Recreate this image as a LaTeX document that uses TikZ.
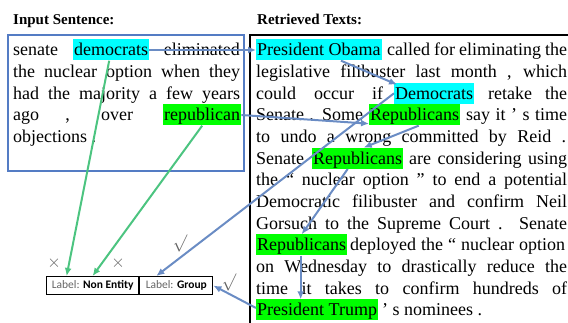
\documentclass[tikz,border=0pt]{standalone}
\usepackage{fontspec}
\setmainfont{Liberation Serif}
\newfontfamily\labelfont{Carlito}
\usetikzlibrary{arrows.meta}

\definecolor{boxblue}{RGB}{84,124,196}
\definecolor{linkblue}{RGB}{106,140,196}
\definecolor{matchgreen}{RGB}{76,196,128}
\definecolor{hlcyan}{RGB}{0,255,255}
\definecolor{hlgreen}{RGB}{0,255,0}
\definecolor{markgray}{RGB}{100,100,100}

% justified piece of a line
\newcommand{\jline}[2]{\makebox[#1pt][s]{#2}}

\tikzset{
  txt/.style={font=\fontsize{18}{21}\selectfont, inner sep=0pt, anchor=base west},
  hl/.style={txt, inner xsep=1pt, inner ysep=0.5pt, text height=16pt, text depth=4pt, fill=#1},
  title/.style={font=\fontsize{15}{18}\selectfont\bfseries, inner sep=0pt, anchor=base west},
  link/.style={draw=linkblue, line width=2pt, -{Latex[length=8pt,width=7pt]}},
  match/.style={draw=matchgreen, line width=2pt, -{Latex[length=8pt,width=7pt]}},
  labelbox/.style={draw=black, line width=1.2pt, font=\labelfont\fontsize{11.5}{13}\selectfont,
    minimum height=18pt, inner xsep=3pt, anchor=north west},
  verdict/.style={text=markgray, inner sep=0pt}
}

\begin{document}
\begin{tikzpicture}[x=1pt,y=-1pt]
                \useasboundingbox (0,0) rectangle (568,323);

                %% titles
                \node[title] (intitle) at (13,25) {Input Sentence:};
                \node[title] (rettitle) at (257,25) {Retrieved Texts:};

                %% input sentence
                \draw[boxblue, line width=1.2pt] (8,35) rectangle (244,171);

                \node[txt] (in1a) at (13,56) {senate};
                \node[hl=hlcyan] (dem) at (73,56) {democrats};
                \node[txt, anchor=base east] (in1b) at (240,56) {eliminated};
                \node[txt] (in2) at (13,77.7) {\jline{227}{the nuclear option when they}};
                \node[txt] (in3) at (13,99.3) {\jline{227}{had the majority a few years}};
                \node[txt] (in4) at (13,121) {\jline{120}{ago , over}};
                \node[hl=hlgreen] (rep) at (163,121) {republican};
                \node[txt] (in5) at (13,142.7) {objections .};

                %% retrieved texts
                \draw[black, line width=1.6pt] (250,400) -- (250,35) -- (700,35);

                \node[hl=hlcyan] (obama) at (256,56) {President Obama};
                \node[txt] (r1) at (387,56) {\jline{180}{called for eliminating the}};
                \node[txt] (r2) at (256,77.7) {\jline{311}{legislative filibuster last month , which}};
                \node[txt] (r3a) at (256,99.3) {\jline{127}{could occur if}};
                \node[hl=hlcyan] (demsb) at (394,99.3) {Democrats};
                \node[txt] (r3b) at (488,99.3) {\jline{79}{retake the}};
                \node[txt] (r4a) at (256,121) {\jline{107}{Senate . Some}};
                \node[hl=hlgreen] (repa) at (369,121) {Republicans};
                \node[txt] (r4b) at (466,121) {\jline{101}{say it ’ s time}};
                \node[txt] (r5) at (256,142.7) {\jline{310}{to undo a wrong committed by Reid .}};
                \node[txt] (r6a) at (256,164.3) {Senate};
                \node[hl=hlgreen] (repb) at (312,164.3) {Republicans};
                \node[txt] (r6b) at (409,164.3) {\jline{158}{are considering using}};
                \node[txt] (r7) at (256,186) {\jline{311}{the “ nuclear option ” to end a potential}};
                \node[txt] (r8) at (256,207.7) {\jline{311}{Democratic filibuster and confirm Neil}};
                \node[txt] (r9) at (256,229.3) {\jline{311}{Gorsuch to the Supreme Court . Senate}};
                \node[hl=hlgreen] (repc) at (256,251) {Republicans};
                \node[txt] (r10) at (350,251) {\jline{215}{deployed the “ nuclear option}};
                \node[txt] (r11) at (256,272.7) {\jline{311}{on Wednesday to drastically reduce the}};
                \node[txt] (r12) at (256,294.3) {\jline{311}{time it takes to confirm hundreds of}};
                \node[hl=hlgreen] (trump) at (256,316) {President Trump};
                \node[txt] (r13) at (382,316) {’ s nominees .};

                %% labels
                \node[labelbox, minimum width=92pt] (nonent) at (46,276)
                    {\textcolor{markgray}{Label:} \textbf{Non Entity}};
                \node[labelbox, minimum width=73pt] (group) at (nonent.north east)
                    {\textcolor{markgray}{Label:} \textbf{Group}};

                \node[verdict, font=\fontsize{17}{17}\selectfont] (cross1) at (54,263) {$\times$};
                \node[verdict, font=\fontsize{17}{17}\selectfont] (cross2) at (118,263) {$\times$};
                \node[verdict, font=\fontsize{19}{19}\selectfont] (check1) at (180,243) {$\surd$};
                \node[verdict, font=\fontsize{19}{19}\selectfont] (check2) at (229,282) {$\surd$};

                %% links between retrieved entities
                \draw[link] (dem.east) -- (obama.west);
                \draw[link] (rep.east) -- ([yshift=2pt]repa.south west);
                \draw[link] ([xshift=22pt]obama.south) -- ([xshift=3pt,yshift=-2pt]demsb.north west);
                \draw[link] (demsb.west) -- ([xshift=-20pt]group.north);
                \draw[link] ([xshift=4pt]repa.south) -- ([xshift=6pt]repb.north);
                \draw[link] ([xshift=-10pt]repb.south) -- (repc.north);
                \draw[link] ([xshift=-1pt]repc.south) -- ([xshift=-1pt]repc.south |- trump.north);
                \draw[link] ([yshift=2pt]trump.west) -- (group.east);

                %% input words to labels
                \draw[match] ([xshift=-2pt]dem.south) -- ([xshift=-26pt]nonent.north);
                \draw[match] (rep.south) -- (nonent.north);

            \end{tikzpicture}
\end{document}
